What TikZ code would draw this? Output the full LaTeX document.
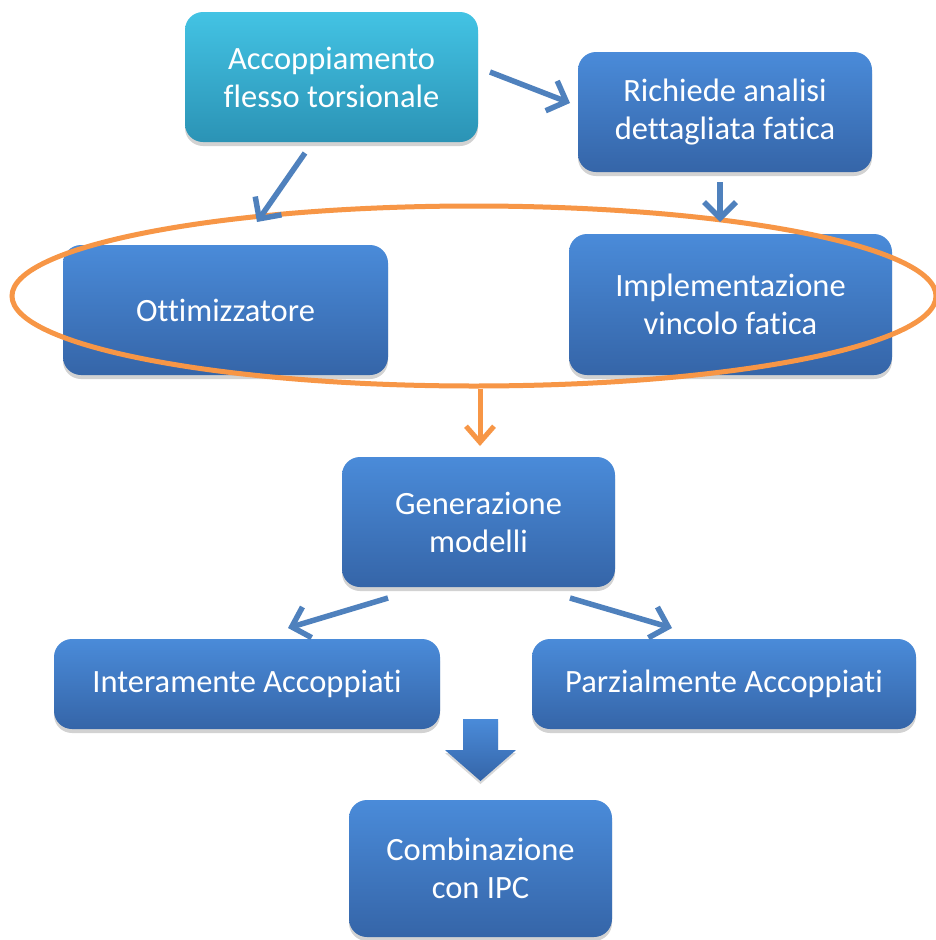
\documentclass[tikz,border=0pt]{standalone}
\usepackage{fontspec}
\setmainfont[RawFeature={-liga;-clig;-calt;-dlig}]{Carlito}
\usetikzlibrary{arrows.meta,shadows,shapes.geometric}
\definecolor{boxtop}{HTML}{4A8BD9}
\definecolor{boxbot}{HTML}{3565A8}
\definecolor{cyantop}{HTML}{43C3E4}
\definecolor{cyanbot}{HTML}{2B93B5}
\definecolor{arrblue}{HTML}{4F81BD}
\definecolor{orng}{HTML}{F79646}
\begin{document}
\begin{tikzpicture}[x=1pt,y=-1pt,
  box/.style={rounded corners=18pt, top color=boxtop, bottom color=boxbot, draw=none,
    text=white, align=center, font=\fontsize{32.5}{38}\selectfont, inner sep=0pt,
    drop shadow={shadow xshift=0pt, shadow yshift=-4pt, opacity=0.35}},
  cyanbox/.style={box, top color=cyantop, bottom color=cyanbot},
  conn/.style={draw=arrblue, line width=5.5pt, -{Straight Barb[length=16pt,width=32pt,line width=5.5pt]}},
  oconn/.style={draw=orng, line width=5pt, -{Straight Barb[length=16pt,width=28pt,line width=5pt]}}
]
\useasboundingbox (0,0) rectangle (936,940);
\fill[white] (0,0) rectangle (936,940);

\node[cyanbox, minimum width=293pt, minimum height=130pt] (acc) at (331.5,77) {Accoppiamento\\flesso torsionale};
\node[box, minimum width=294pt, minimum height=120pt] (ric) at (725,112) {Richiede analisi\\dettagliata fatica};
\node[box, minimum width=325pt, minimum height=130pt] (ott) at (225.5,310) {Ottimizzatore};
\node[box, minimum width=323pt, minimum height=141pt] (imp) at (730.5,304.5) {Implementazione\\vincolo fatica};
\node[box, minimum width=273pt, minimum height=130pt] (gen) at (478.5,522) {Generazione\\modelli};
\node[box, minimum width=386pt, minimum height=90pt] (int) at (247,684) {Interamente Accoppiati};
\node[box, minimum width=384pt, minimum height=90pt] (par) at (724,684) {Parzialmente Accoppiati};
\node[box, minimum width=263pt, minimum height=137pt] (com) at (480.5,868.5) {Combinazione\\con IPC};

% ellipse grouping
\node[draw=orng, line width=5pt, ellipse, minimum width=924pt, minimum height=180pt, inner sep=0pt] (grp) at (474,296) {};

% connector end points
\coordinate (a1s) at (490,72);  \coordinate (a1e) at (570,103);
\coordinate (a2s) at (305,153); \coordinate (a2e) at (257,222);
\coordinate (a3s) at (720,182); \coordinate (a3e) at (720,222);
\coordinate (a4s) at (388,598); \coordinate (a4e) at (288,628);
\coordinate (a5s) at (570,598); \coordinate (a5e) at (672,628);
\coordinate (o1e) at (480,446);

\draw[conn] (a1s) -- (a1e);
\draw[conn] (a2s) -- (a2e);
\draw[conn] (a3s) -- (a3e);
\draw[conn] (a4s) -- (a4e);
\draw[conn] (a5s) -- (a5e);
\draw[oconn] (grp.south -| o1e) -- (o1e);

% block arrow
\path[top color=boxtop, bottom color=boxbot, drop shadow={shadow xshift=0pt, shadow yshift=-3pt, opacity=0.3}]
  (463,719) -- (498,719) -- (498,750) -- (516,750) -- (480.5,781) -- (445,750) -- (463,750) -- cycle;
\end{tikzpicture}
\end{document}
